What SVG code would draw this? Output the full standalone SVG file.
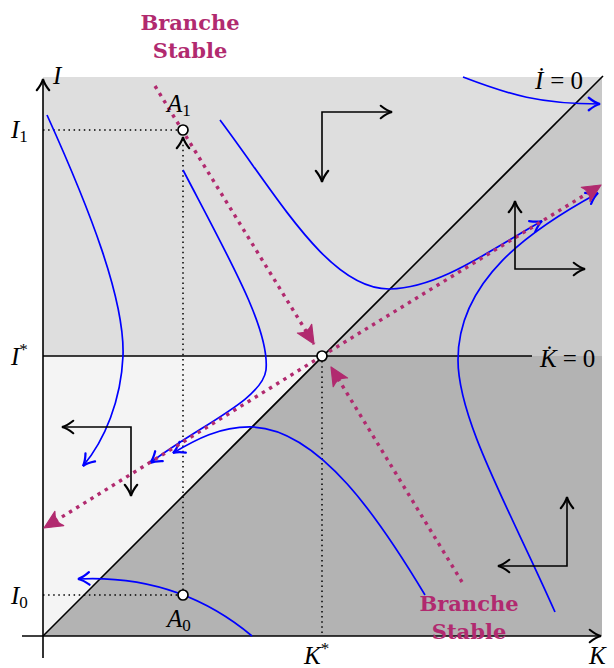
<svg xmlns="http://www.w3.org/2000/svg" width="614" height="668" viewBox="0 0 614 668">
<style>
.ax{stroke:#000;stroke-width:1.6;fill:none}
.dot{stroke:#000;stroke-width:1.5;fill:none;stroke-dasharray:1.5 3.6}
.bl{stroke:#0000ff;stroke-width:1.7;fill:none}
.mg{stroke:#b12a6f;stroke-width:3.4;fill:none;stroke-dasharray:3.4 5}
.ph{stroke:#000;stroke-width:1.6;fill:none}
.m{font-family:"Liberation Serif","DejaVu Serif",serif;font-style:italic;font-size:25px;fill:#000}
.br{font-family:"DejaVu Serif","Liberation Serif",serif;font-weight:bold;font-size:21px;fill:#b12a6f;text-anchor:middle}
</style>
<defs>
<marker id="ak" markerUnits="userSpaceOnUse" markerWidth="20" markerHeight="20" viewBox="-12 -8 14 16" refX="0" refY="0" orient="auto-start-reverse">
<path d="M-9,-5 Q-4,-1 0,0 Q-4,1 -9,5" fill="none" stroke="#000" stroke-width="1.7" stroke-linecap="round"/>
</marker>
<marker id="ab" markerUnits="userSpaceOnUse" markerWidth="20" markerHeight="20" viewBox="-12 -8 14 16" refX="0" refY="0" orient="auto">
<path d="M-9,-5 Q-4,-1 0,0 Q-4,1 -9,5" fill="none" stroke="#0000ff" stroke-width="1.8" stroke-linecap="round"/>
</marker>
<marker id="am" markerUnits="userSpaceOnUse" markerWidth="24" markerHeight="24" viewBox="-18 -10 20 20" refX="0" refY="0" orient="auto">
<path d="M0,0 L-15,-7 Q-10,0 -15,7 Z" fill="#b12a6f" stroke="#b12a6f" stroke-width="1" stroke-linejoin="round"/>
</marker>
</defs>

<g id="background">
<rect x="43" y="77" width="559" height="559" fill="#dedede"/>
<polygon points="322,356 602,77 602,356" fill="#c8c8c8"/>
<polygon points="43,356 322,356 43,636" fill="#f4f4f4"/>
<polygon points="322,356 602,356 602,636 43,636" fill="#b3b3b3"/>
</g>

<g id="connectors">
<!-- axes -->
<line class="ax" x1="43" y1="658" x2="43" y2="79" marker-end="url(#ak)"/>
<line class="ax" x1="22" y1="636" x2="601" y2="636" marker-end="url(#ak)"/>
<!-- nullclines -->
<line class="ax" x1="43" y1="636" x2="603" y2="76"/>
<line class="ax" x1="43" y1="356" x2="532" y2="356"/>
<!-- dotted guides -->
<line class="dot" x1="43" y1="130" x2="183" y2="130"/>
<line class="dot" x1="43" y1="595" x2="183" y2="595"/>
<line class="dot" x1="322" y1="356" x2="322" y2="636"/>
<line class="dot" x1="183" y1="595" x2="183" y2="137" marker-end="url(#ak)"/>
<!-- blue trajectories -->
<path class="bl" d="M47,115 C90,210 125,300 123,356 C121,400 105,440 83,466" marker-end="url(#ab)"/>
<path class="bl" d="M183,170 C230,260 270,330 266,370 C262,400 200,425 150,463" marker-end="url(#ab)"/>
<path class="bl" d="M425,595 C380,520 320,430 253,427 C220,426 195,440 173,453" marker-end="url(#ab)"/>
<path class="bl" d="M220,120 C280,200 330,290 390,289 C440,288 490,250 542,221" marker-end="url(#ab)"/>
<path class="bl" d="M463,77 C510,95 540,104 600,104" marker-end="url(#ab)"/>
<path class="bl" d="M555,612 C510,510 458,420 458,360 C458,280 530,230 598,193" marker-end="url(#ab)"/>
<path class="bl" d="M252,636 C215,605 160,575 78,579" marker-end="url(#ab)"/>
<!-- branches -->
<path class="mg" d="M155,86 L314,344" marker-end="url(#am)"/>
<path class="mg" d="M462,582 L331,367" marker-end="url(#am)"/>
<path class="mg" d="M322,356 L44,528" marker-end="url(#am)"/>
<path class="mg" d="M322,356 L601,185" marker-end="url(#am)"/>
<!-- phase arrows -->
<path class="ph" d="M392,112 L322,112 L322,182" marker-start="url(#ak)" marker-end="url(#ak)"/>
<path class="ph" d="M515,201 L515,269 L585,269" marker-start="url(#ak)" marker-end="url(#ak)"/>
<path class="ph" d="M62,427 L131,427 L131,496" marker-start="url(#ak)" marker-end="url(#ak)"/>
<path class="ph" d="M498,566 L567,566 L567,497" marker-start="url(#ak)" marker-end="url(#ak)"/>
</g>

<g id="equilibrium"><circle cx="322" cy="356" r="5" fill="#fff" stroke="#000" stroke-width="1.7"/></g>
<g id="A1"><circle cx="183" cy="130" r="5" fill="#fff" stroke="#000" stroke-width="1.7"/>
<text class="m" x="167" y="112">A<tspan font-style="normal" font-size="17" dy="4">1</tspan></text></g>
<g id="A0"><circle cx="183" cy="595" r="5" fill="#fff" stroke="#000" stroke-width="1.7"/>
<text class="m" x="167" y="627">A<tspan font-style="normal" font-size="17" dy="4">0</tspan></text></g>

<g id="labels">
<text class="m" x="53" y="84">I</text>
<text class="m" x="589" y="664">K</text>
<text class="m" x="11" y="138">I<tspan font-style="normal" font-size="17" dy="4">1</tspan></text>
<text class="m" x="11" y="604">I<tspan font-style="normal" font-size="17" dy="4">0</tspan></text>
<text class="m" x="11" y="365">I<tspan font-style="normal" font-size="17" dy="-10">*</tspan></text>
<text class="m" x="304" y="664">K<tspan font-style="normal" font-size="17" dy="-10">*</tspan></text>
<text class="m" x="535" y="89">İ<tspan font-style="normal" dx="7">=</tspan><tspan font-style="normal" dx="6">0</tspan></text>
<text class="m" x="540" y="367">K̇<tspan font-style="normal" dx="6">=</tspan><tspan font-style="normal" dx="6">0</tspan></text>
</g>

<g id="branche-top">
<text class="br" x="190" y="30">Branche</text>
<text class="br" x="190" y="58">Stable</text>
</g>
<g id="branche-bottom">
<text class="br" x="469" y="611">Branche</text>
<text class="br" x="469" y="639">Stable</text>
</g>
</svg>
